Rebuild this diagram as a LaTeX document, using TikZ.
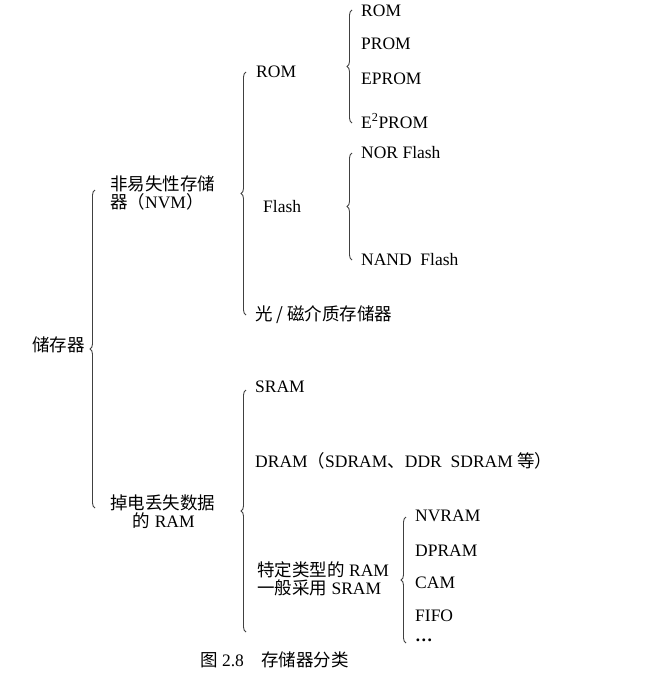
\documentclass[tikz,border=0pt]{standalone}
\usepackage{fontspec}
\setmainfont{Liberation Serif}
\newfontfamily\cjk{Noto Sans CJK SC}
\usetikzlibrary{decorations.pathreplacing}

\begin{document}
\begin{tikzpicture}
    [x=1pt,y=-1pt,
    font=\fontsize{17.5}{20}\selectfont,
    item/.style={anchor=west,inner sep=0pt,align=left},
    brc/.style={decorate,decoration={brace,amplitude=5pt},line width=0.9pt,draw=black!75}]

    \useasboundingbox (0,0) rectangle (671,685);

    % tree texts
    \node (root) [item] at (32,345) {{\cjk 储存器}};
    \node (nvm) [item] at (110,193) {{\cjk 非易失性存储}\\[-2pt]{\cjk 器（}NVM{\cjk ）}};
    \node (ram) [item] at (110,512) {{\cjk 掉电丢失数据}\\[-2pt]\hspace{1.3em}{\cjk 的} RAM};
    \node (rom) [item] at (256,72) {ROM};
    \node (flash) [item] at (263,207) {Flash};
    \node (opt) [item] at (255,315) {{\cjk 光 / 磁介质存储器}};
    \node (sram) [item] at (255,387) {SRAM};
    \node (dram) [item] at (255,461) {DRAM{\cjk （}SDRAM{\cjk 、}DDR\ \ SDRAM {\cjk 等）}};
    \node (spec) [item] at (257,579) {{\cjk 特定类型的} RAM\\[-2pt]{\cjk 一般采用} SRAM};
    \node (rom1) [item] at (361,11) {ROM};
    \node (rom2) [item] at (361,44) {PROM};
    \node (rom3) [item] at (361,79) {EPROM};
    \node (rom4) [item] at (361,121) {E\textsuperscript{2}PROM};
    \node (nor) [item] at (361,153) {NOR Flash};
    \node (nand) [item] at (361,260) {NAND\ \ Flash};
    \node (s1) [item] at (415,516) {NVRAM};
    \node (s2) [item] at (415,551) {DPRAM};
    \node (s3) [item] at (415,583) {CAM};
    \node (s4) [item] at (415,616) {FIFO};
    \node (s5) [item] at (415,640) {\textbf{…}};
    \node (cap) [item] at (200,660) {{\cjk 图} 2.8\quad{\cjk 存储器分类}};

    % braces
    \draw [brc] (95,508) -- (95,190);
    \draw [brc] (246,315) -- (246,72);
    \draw [brc] (246,632) -- (246,390);
    \draw [brc] (352,123) -- (352,10);
    \draw [brc] (352,260) -- (352,153);
    \draw [brc] (406,643) -- (406,517);

  \end{tikzpicture}
\end{document}
